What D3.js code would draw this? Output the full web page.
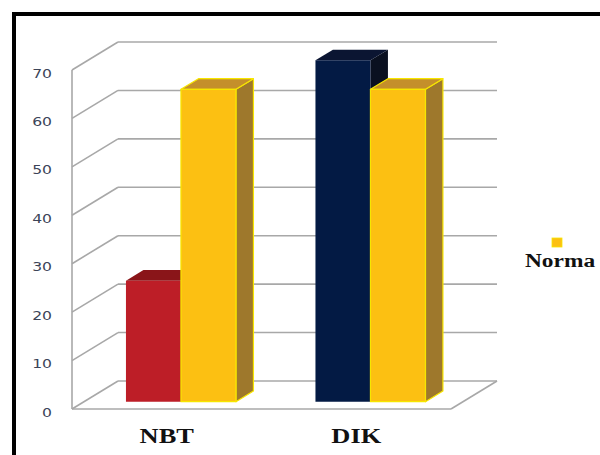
<!DOCTYPE html>
<html>
<head>
<meta charset="utf-8">
<script src="https://cdn.jsdelivr.net/npm/d3@7"></script>
<style>
  body { margin: 0; background: #fff; }
  svg { display: block; }
</style>
</head>
<body>
<svg width="600" height="455"></svg>
<script>
// chart values
var categories = ['NBT', 'DIK'];
var measured = [25, 70.5];
var norma = [64.5, 64.5];
var yTicks = [0, 10, 20, 30, 40, 50, 60, 70];
var legendLabels = ['Norma'];

var svg = d3.select('svg');

// faux 3d: depth offset of the back wall
var depthX = 46, depthY = -28;
var barT0 = 0.26, barT1 = 0.64;

var ScaleX = d3.scaleBand().domain(categories).range([72, 451]);
var ScaleY = d3.scaleLinear().domain([0, 70]).range([409, 70]);
var ScaleSub = d3.scaleBand().domain(['measured', 'norma']).range([42, 152]);

function pt(x, y, t) {
    return [x + t * depthX, y + t * depthY];
}
function line(a, b) {
    svg.append('line')
        .attr('x1', a[0]).attr('y1', a[1])
        .attr('x2', b[0]).attr('y2', b[1])
        .attr('stroke', '#a8a8a8')
        .attr('stroke-width', 1.6);
}

// frame
svg.append('rect')
    .attr('x', 14).attr('y', 14)
    .attr('width', 620).attr('height', 470)
    .attr('fill', 'none')
    .attr('stroke', '#000')
    .attr('stroke-width', 4);

var x0 = ScaleX.range()[0], x1 = ScaleX.range()[1];

// back wall gridlines + side wall diagonals
yTicks.forEach(function(v){
    var y = ScaleY(v);
    line(pt(x0, y, 1), pt(x1, y, 1));
    line(pt(x0, y, 0), pt(x0, y, 1));
});
// side wall front edge
line(pt(x0, ScaleY(70), 0), pt(x0, ScaleY(0), 0));
// floor
line(pt(x0, ScaleY(0), 0), pt(x1, ScaleY(0), 0));
line(pt(x1, ScaleY(0), 0), pt(x1, ScaleY(0), 1));

// y labels
svg.selectAll('.ylab')
    .data(yTicks)
    .enter()
    .append('text')
    .attr('class', 'ylab')
    .attr('x', 52)
    .attr('y', function(d){ return ScaleY(d) + 3; })
    .attr('text-anchor', 'end')
    .attr('dominant-baseline', 'central')
    .attr('font-family', 'DejaVu Sans')
    .attr('font-size', 13)
    .attr('fill', '#3c4458')
    .text(function(d){ return d; });

// bars
var bars = [];
categories.forEach(function(c, i){
    bars.push({cat: c, key: 'measured', value: measured[i],
        front: i == 0 ? '#bd1e27' : '#031a44',
        top: i == 0 ? '#8a1519' : '#0b1532',
        side: i == 0 ? '#6e1014' : '#0a1020',
        stroke: 'none'});
    bars.push({cat: c, key: 'norma', value: norma[i],
        front: '#fcc012', top: '#c48f2b', side: '#9e782c', stroke: '#f7e600'});
});

function poly(points, fill, stroke) {
    svg.append('polygon')
        .attr('points', points.map(function(p){ return p.join(','); }).join(' '))
        .attr('fill', fill)
        .attr('stroke', stroke)
        .attr('stroke-width', stroke == 'none' ? 0 : 1.2)
        .attr('stroke-linejoin', 'round');
}

bars.forEach(function(d){
    var xl = ScaleX(d.cat) + ScaleSub(d.key);
    var xr = xl + ScaleSub.bandwidth();
    var yt = ScaleY(d.value), yb = ScaleY(0);
    // side face
    poly([pt(xr, yt, barT0), pt(xr, yb, barT0), pt(xr, yb, barT1), pt(xr, yt, barT1)], d.side, d.stroke);
    // top face
    poly([pt(xl, yt, barT0), pt(xr, yt, barT0), pt(xr, yt, barT1), pt(xl, yt, barT1)], d.top, d.stroke);
    // front face
    poly([pt(xl, yt, barT0), pt(xr, yt, barT0), pt(xr, yb, barT0), pt(xl, yb, barT0)], d.front, d.stroke);
});

// category labels
svg.selectAll('.xlab')
    .data(categories)
    .enter()
    .append('text')
    .attr('class', 'xlab')
    .attr('x', function(d){ return ScaleX(d) + ScaleX.bandwidth() / 2; })
    .attr('y', 443)
    .attr('text-anchor', 'middle')
    .attr('font-family', 'Liberation Serif')
    .attr('font-weight', 'bold')
    .attr('font-size', 22)
    .attr('fill', '#111')
    .text(function(d){ return d; });

// legend
var legend = svg.selectAll('.legend')
    .data(legendLabels)
    .enter()
    .append('g')
    .attr('class', 'legend');
legend.append('rect')
    .attr('x', 552).attr('y', 238)
    .attr('width', 10).attr('height', 9)
    .attr('fill', '#fcc012')
    .attr('stroke', '#f7e600')
    .attr('stroke-width', 0.8);
legend.append('text')
    .attr('x', 560).attr('y', 267)
    .attr('text-anchor', 'middle')
    .attr('font-family', 'Liberation Serif')
    .attr('font-weight', 'bold')
    .attr('font-size', 18)
    .attr('fill', '#111')
    .text(function(d){ return d; });

// the original picture is stretched sideways a bit
svg.selectAll('text').each(function(){
    var w = this.getComputedTextLength();
    var k = this.classList.contains('ylab') ? 1.2 : (this.classList.contains('xlab') ? 1.2 : 1.3);
    d3.select(this)
        .attr('textLength', w * k)
        .attr('lengthAdjust', 'spacingAndGlyphs');
});
</script>
</body>
</html>
